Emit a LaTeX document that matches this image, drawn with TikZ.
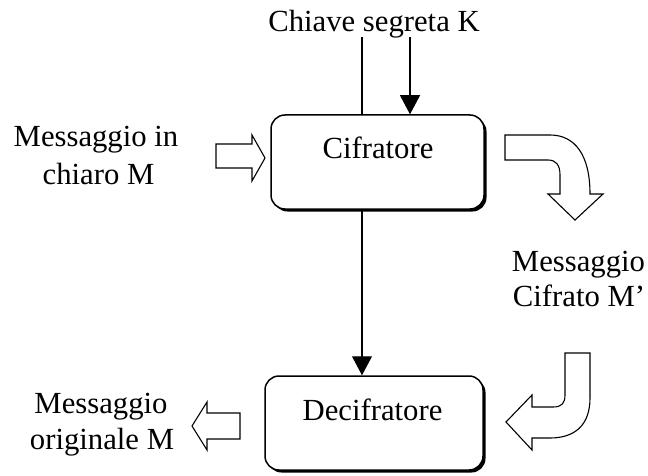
\documentclass[tikz,border=0pt]{standalone}
\usepackage{fontspec}
\setmainfont{Liberation Serif}
\usetikzlibrary{arrows.meta,shadows}

\begin{document}
\begin{tikzpicture}[x=1pt,y=-1pt,
  txt/.style={font=\fontsize{30.7}{37}\selectfont, inner sep=0pt, anchor=base},
  unit/.style={draw, line width=1.5pt, rounded corners=14pt, fill=white, inner sep=0pt,
    drop shadow={shadow xshift=2.5pt, shadow yshift=-2.5pt, fill=black, opacity=1}},
  wire/.style={line width=1.1pt},
  flow/.style={wire, -{Triangle[length=19pt,width=20pt]}},
  block/.style={draw, line width=1.1pt, fill=white, line join=miter}]
\useasboundingbox (0,0) rectangle (648,476);

% processing units
\node[unit, minimum width=213pt, minimum height=94pt] (cif) at (377.5,162) {};
\node[unit, minimum width=218pt, minimum height=94pt] (dec) at (374,423) {};
\node[txt] (ciftxt) at (378,159) {Cifratore};
\node[txt] (dectxt) at (372.5,420) {Decifratore};

% secret key
\node[txt] (key) at (374,32) {Chiave segreta K};
\coordinate (kl) at (362,37);
\coordinate (kr) at (410,37);
\draw[wire] (kl) -- (kl |- cif.north);
\draw[flow] (kr) -- (kr |- cif.north);
\draw[flow] (kl |- cif.south) -- (kl |- dec.north);

% plaintext input
\node[txt] (in1) at (96,147) {Messaggio in};
\node[txt] (in2) at (98.5,185) {chiaro M};
\draw[block] (216,144) -- (252,144) -- (252,135) -- (265,158) -- (252,181)
  -- (252,168) -- (216,168) -- cycle;

% ciphertext
\node[txt] (c1) at (578.5,271) {Messaggio};
\node[txt] (c2) at (579,306) {Cifrato M’};
\draw[block] (505,135) -- (550,135) .. controls (575,135) and (590,155) .. (590,194)
  -- (603,194) -- (575,220) -- (548,194) -- (560,194) -- (560,175)
  .. controls (560,165) and (556,160) .. (548,160) -- (505,160) -- cycle;
\draw[block] (565,353) -- (590,353) -- (590,398)
  .. controls (590,425) and (575,438) .. (550,438) -- (532,438) -- (532,450)
  -- (506,422) -- (532,395) -- (532,407) -- (553,407)
  .. controls (562,407) and (565,403) .. (565,395) -- cycle;

% recovered output
\node[txt] (out1) at (101,413) {Messaggio};
\node[txt] (out2) at (102,449) {originale M};
\draw[block] (240,413) -- (207,413) -- (207,402) -- (192,426) -- (207,450)
  -- (207,439) -- (240,439) -- cycle;
\end{tikzpicture}
\end{document}
